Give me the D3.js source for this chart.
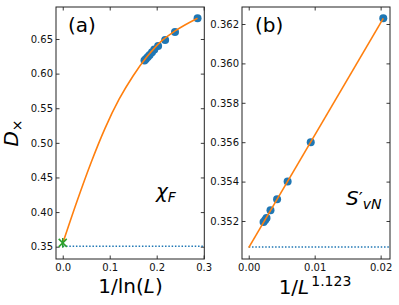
<!DOCTYPE html>
<html>
<head>
<meta charset="utf-8">
<script src="https://cdn.jsdelivr.net/npm/d3@7"></script>
<style>
  body { margin: 0; background: #fff; }
  svg { font-family: "DejaVu Sans", sans-serif; }
</style>
</head>
<body>
<div id="chart"></div>
<script>
// Panel (a): D_x against 1/ln(L)
const aX = [0.287, 0.239, 0.218, 0.203, 0.195, 0.190, 0.185, 0.181, 0.177, 0.174];
const aY = [0.680, 0.660, 0.6486, 0.640, 0.635, 0.631, 0.627, 0.624, 0.621, 0.619];
const aFitX = [0, 0.03, 0.06, 0.09, 0.12, 0.15, 0.18, 0.21, 0.24, 0.287];
const aFitY = [0.355, 0.415, 0.471, 0.521, 0.563, 0.597, 0.625, 0.647, 0.662, 0.680];
const aExtrap = [0, 0.3555];

// Panel (b): D_x against 1/L^1.123
const bX = [0.0204, 0.0094, 0.0059, 0.0043, 0.0033, 0.0027, 0.0025, 0.00225];
const bY = [0.36229, 0.35600, 0.35400, 0.35310, 0.35255, 0.35215, 0.35205, 0.35195];
const bFitX = [0, 0.0204];
const bFitY = [0.35065, 0.36229];

const dInf = 0.35068; // dotted reference level

const aXTicks = [0.0, 0.1, 0.2, 0.3];
const aYTicks = [0.35, 0.40, 0.45, 0.50, 0.55, 0.60, 0.65];
const bXTicks = [0.00, 0.01, 0.02];
const bYTicks = [0.352, 0.354, 0.356, 0.358, 0.360, 0.362];

const W = 399, H = 305;
const yTop = 7, yBot = 259;

const svg = d3.select("#chart").append("svg")
  .attr("width", W).attr("height", H);

function panel(left, right, xDom, yDom, xTicks, yTicks, xFmt, yFmt, id) {
  const x = d3.scaleLinear().domain(xDom).range([left, right]);
  const y = d3.scaleLinear().domain(yDom).range([yBot, yTop]);
  const g = svg.append("g");

  g.append("clipPath").attr("id", id)
    .append("rect").attr("x", left).attr("y", yTop)
    .attr("width", right - left).attr("height", yBot - yTop);

  const axes = [
    [d3.axisBottom(x).tickValues(xTicks).tickFormat(xFmt).tickPadding(5), `translate(0,${yBot})`],
    [d3.axisTop(x).tickValues(xTicks).tickFormat(""), `translate(0,${yTop})`],
    [d3.axisLeft(y).tickValues(yTicks).tickFormat(yFmt).tickPadding(3), `translate(${left},0)`],
    [d3.axisRight(y).tickValues(yTicks).tickFormat(""), `translate(${right},0)`]
  ];
  axes.forEach(([ax, tr]) => {
    const a = g.append("g").attr("transform", tr)
      .call(ax.tickSizeInner(-3.5).tickSizeOuter(0));
    a.select(".domain").remove();
    a.selectAll(".tick line").attr("stroke", "#222").attr("stroke-width", 0.9);
    a.selectAll("text").attr("font-size", 10).attr("fill", "#111")
      .attr("font-family", "DejaVu Sans, sans-serif");
  });

  g.append("rect").attr("x", left).attr("y", yTop)
    .attr("width", right - left).attr("height", yBot - yTop)
    .attr("fill", "none").attr("stroke", "#222").attr("stroke-width", 1);

  const plot = g.append("g").attr("clip-path", `url(#${id})`);
  return { x, y, plot };
}

// ---- panel (a)
const pa = panel(56, 204.3, [-0.01435, 0.30135], [0.33223, 0.69622],
  aXTicks, aYTicks, d3.format(".1f"), d3.format(".2f"), "clipA");

pa.plot.append("line")
  .attr("x1", pa.x(0)).attr("x2", pa.x(0.30135))
  .attr("y1", pa.y(dInf)).attr("y2", pa.y(dInf))
  .attr("stroke", "#1f77b4").attr("stroke-width", 1.5)
  .attr("stroke-dasharray", "1.5,1.8");

pa.plot.selectAll("circle").data(aX).join("circle")
  .attr("cx", d => pa.x(d)).attr("cy", (d, i) => pa.y(aY[i]))
  .attr("r", 4).attr("fill", "#1f77b4");

pa.plot.append("path")
  .datum(aFitX.map((d, i) => [d, aFitY[i]]))
  .attr("d", d3.line().x(d => pa.x(d[0])).y(d => pa.y(d[1])).curve(d3.curveMonotoneX))
  .attr("fill", "none").attr("stroke", "#ff7f0e").attr("stroke-width", 1.6);

{
  const cx = pa.x(aExtrap[0]), cy = pa.y(aExtrap[1]), s = 4;
  const m = pa.plot.append("g").attr("stroke", "#2ca02c").attr("stroke-width", 1.5);
  m.append("line").attr("x1", cx - s).attr("y1", cy - s).attr("x2", cx + s).attr("y2", cy + s);
  m.append("line").attr("x1", cx - s).attr("y1", cy + s).attr("x2", cx + s).attr("y2", cy - s);
  m.append("line").attr("x1", cx).attr("y1", cy - s * 1.2).attr("x2", cx).attr("y2", cy + s * 1.2);
}

// ---- panel (b)
const pb = panel(242, 390, [-0.00102, 0.02142], [0.350071, 0.362863],
  bXTicks, bYTicks, d3.format(".2f"), d3.format(".3f"), "clipB");

pb.plot.append("line")
  .attr("x1", pb.x(0)).attr("x2", pb.x(0.02142))
  .attr("y1", pb.y(dInf)).attr("y2", pb.y(dInf))
  .attr("stroke", "#1f77b4").attr("stroke-width", 1.5)
  .attr("stroke-dasharray", "1.5,1.8");

pb.plot.selectAll("circle").data(bX).join("circle")
  .attr("cx", d => pb.x(d)).attr("cy", (d, i) => pb.y(bY[i]))
  .attr("r", 4).attr("fill", "#1f77b4");

pb.plot.append("path")
  .datum(bFitX.map((d, i) => [d, bFitY[i]]))
  .attr("d", d3.line().x(d => pb.x(d[0])).y(d => pb.y(d[1])))
  .attr("fill", "none").attr("stroke", "#ff7f0e").attr("stroke-width", 1.6);

// ---- texts
svg.append("text").attr("x", 68).attr("y", 32).attr("font-size", 20).text("(a)");
svg.append("text").attr("x", 255).attr("y", 32).attr("font-size", 20).text("(b)");

const chi = svg.append("text").attr("x", 156).attr("y", 198).attr("font-size", 20);
chi.append("tspan").attr("font-style", "italic").text("χ");
chi.append("tspan").attr("font-style", "italic").attr("font-size", 14).attr("dy", 4).text("F");

const sv = svg.append("text").attr("x", 346).attr("y", 205).attr("font-size", 20);
sv.append("tspan").attr("font-style", "italic").text("S");
sv.append("tspan").attr("font-size", 18).text("′");
sv.append("tspan").attr("font-style", "italic").attr("font-size", 14).attr("dy", 4).text("vN");

const yl = svg.append("text").attr("transform", "translate(18,133) rotate(-90)")
  .attr("text-anchor", "middle").attr("font-size", 20);
yl.append("tspan").attr("font-style", "italic").text("D");
yl.append("tspan").attr("font-size", 14).attr("dy", 4).text("×");

const xl1 = svg.append("text").attr("x", 130.5).attr("y", 293)
  .attr("text-anchor", "middle").attr("font-size", 20);
xl1.append("tspan").text("1/ln(");
xl1.append("tspan").attr("font-style", "italic").text("L");
xl1.append("tspan").text(")");

const xl2 = svg.append("text").attr("x", 315).attr("y", 294)
  .attr("text-anchor", "middle").attr("font-size", 20);
xl2.append("tspan").text("1/");
xl2.append("tspan").attr("font-style", "italic").text("L");
xl2.append("tspan").attr("font-size", 14).attr("dy", -8).attr("dx", 2).text("1.123");
</script>
</body>
</html>
